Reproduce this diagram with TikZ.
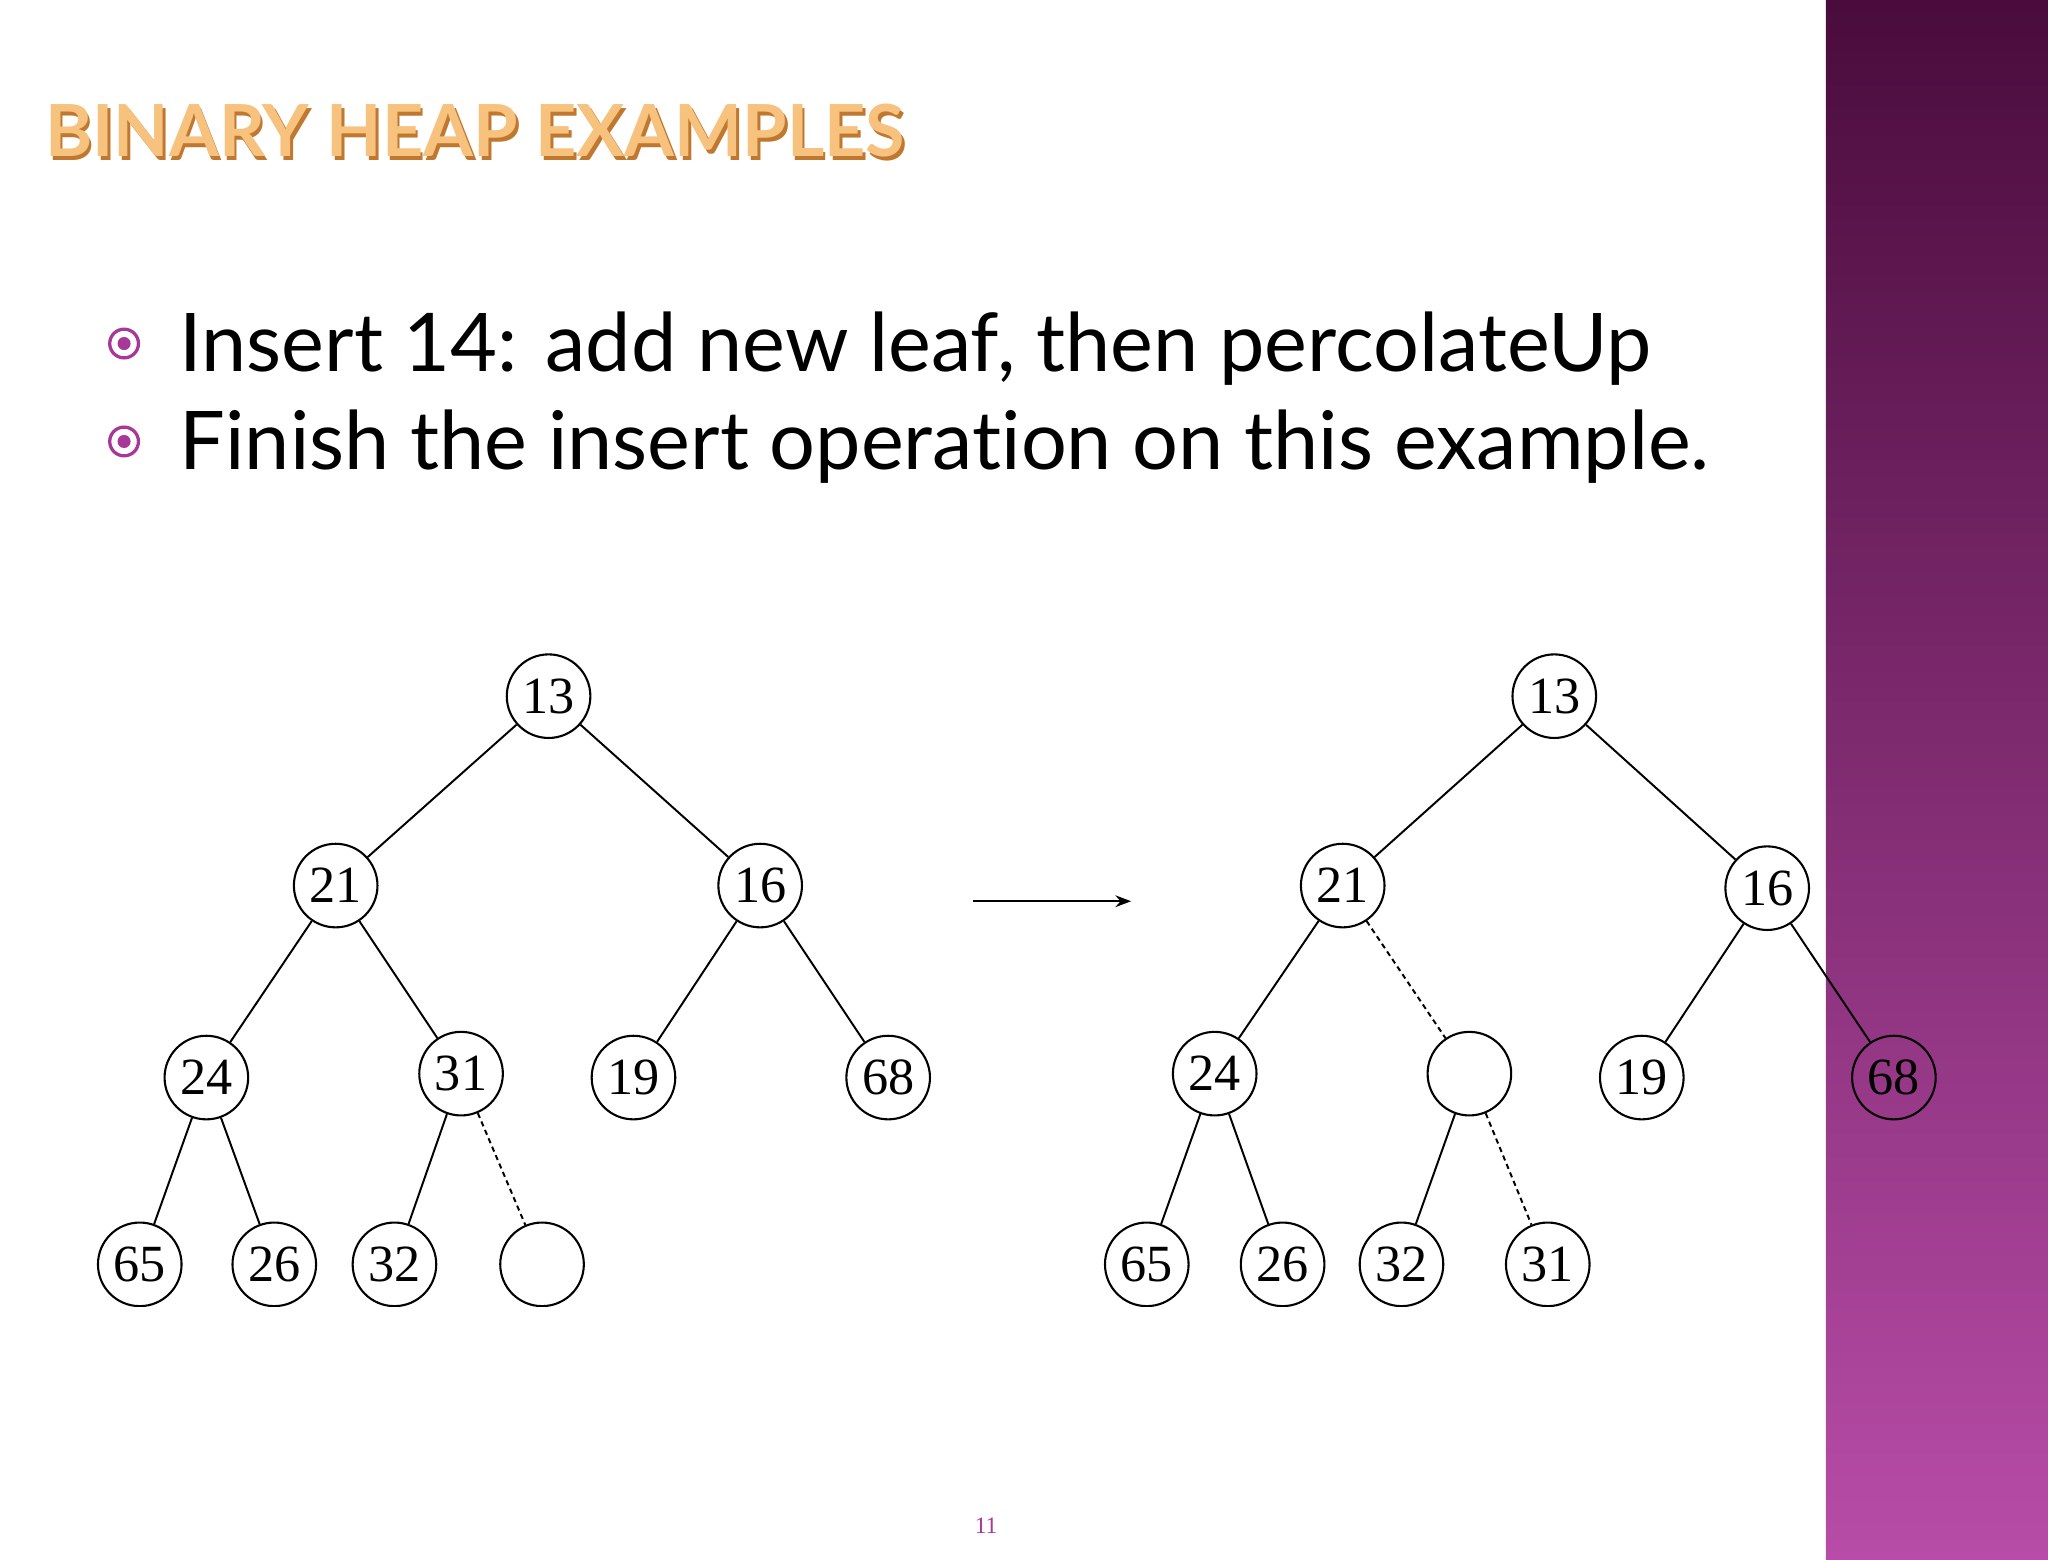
\documentclass[tikz,border=0pt]{standalone}
\usepackage{fontspec}
\setmainfont{Liberation Serif}
\newfontfamily\lato[Ligatures={NoCommon}]{Lato}
\usetikzlibrary{arrows.meta}
\definecolor{barT}{HTML}{4A0C3C}
\definecolor{barB}{HTML}{B84CA8}
\definecolor{ttl}{HTML}{F6C27E}
\definecolor{ttlE}{HTML}{C07830}
\definecolor{bul}{HTML}{A83898}
\tikzset{hn/.style={circle,draw,line width=1.6pt,minimum size=64pt,inner sep=0pt,font=\fontsize{40}{40}\selectfont},
 ed/.style={line width=1.5pt},
 de/.style={line width=1.5pt,dash pattern=on 4pt off 3pt},
 bulring/.style={circle,draw=bul,line width=2.5pt,minimum size=22pt,inner sep=0pt},
 buldot/.style={circle,fill=bul,minimum size=10pt,inner sep=0pt}}
\begin{document}
\begin{tikzpicture}[x=1pt,y=-1pt]
\useasboundingbox (0,0) rectangle (1568,1194);
\fill[white] (0,0) rectangle (1568,1194);
\shade[top color=barT,bottom color=barB] (1398,0) rectangle (1568,1194);
\node[anchor=west,font=\lato\bfseries\fontsize{55}{55}\selectfont,text=ttlE] (t0) at (33,103) {BINARY HEAP EXAMPLES};
\node[anchor=west,font=\lato\bfseries\fontsize{55}{55}\selectfont,text=ttl] (t) at (31,100) {BINARY HEAP EXAMPLES};
\node[bulring] (b1) at (95,263) {};
\node[buldot] at (b1) {};
\node[bulring] (b2) at (95,338) {};
\node[buldot] at (b2) {};
\node[anchor=west,font=\lato\fontsize{62}{62}\selectfont] (l1) at (134,267) {Insert 14: add new leaf, then percolateUp};
\node[anchor=west,font=\lato\fontsize{62}{62}\selectfont] (l2) at (134,342) {Finish the insert operation on this example.};
\node[text=bul,font=\fontsize{18}{18}\selectfont] (pg) at (755,1168) {11};
\begin{scope}
\clip (0,480) rectangle (1568,1000);
\node[hn] (a13) at (420,533) {13};
\node[hn] (a21) at (257,678) {21};
\node[hn] (a16) at (582,678) {16};
\node[hn] (a24) at (158,825) {24};
\node[hn] (a31) at (353,822) {31};
\node[hn] (a19) at (485,825) {19};
\node[hn] (a68) at (680,825) {68};
\node[hn] (a65) at (107,968) {65};
\node[hn] (a26) at (210,968) {26};
\node[hn] (a32) at (302,968) {32};
\node[hn] (ae) at (415,968) {};
\draw[ed] (a13)--(a21) (a13)--(a16) (a21)--(a24) (a21)--(a31) (a16)--(a19) (a16)--(a68)
 (a24)--(a65) (a24)--(a26) (a31)--(a32);
\draw[de] (a31)--(ae);
\node[hn] (b13) at (1190,533) {13};
\node[hn] (b21) at (1028,678) {21};
\node[hn] (b16) at (1353,680) {16};
\node[hn] (b24) at (930,822) {24};
\node[hn] (be) at (1125,822) {};
\node[hn] (b19) at (1257,825) {19};
\node[hn] (b68) at (1450,825) {68};
\node[hn] (b65) at (878,968) {65};
\node[hn] (b26) at (982,968) {26};
\node[hn] (b32) at (1073,968) {32};
\node[hn] (b31) at (1185,968) {31};
\draw[ed] (b13)--(b21) (b13)--(b16) (b21)--(b24) (b16)--(b19) (b16)--(b68)
 (b24)--(b65) (b24)--(b26) (be)--(b32);
\draw[de] (b21)--(be) (be)--(b31);
\end{scope}
\coordinate (r0) at (745,690);
\coordinate (r1) at (866,690);
\draw[line width=1.6pt,-{Stealth[length=12pt]}] (r0)--(r1);
\end{tikzpicture}
\end{document}
